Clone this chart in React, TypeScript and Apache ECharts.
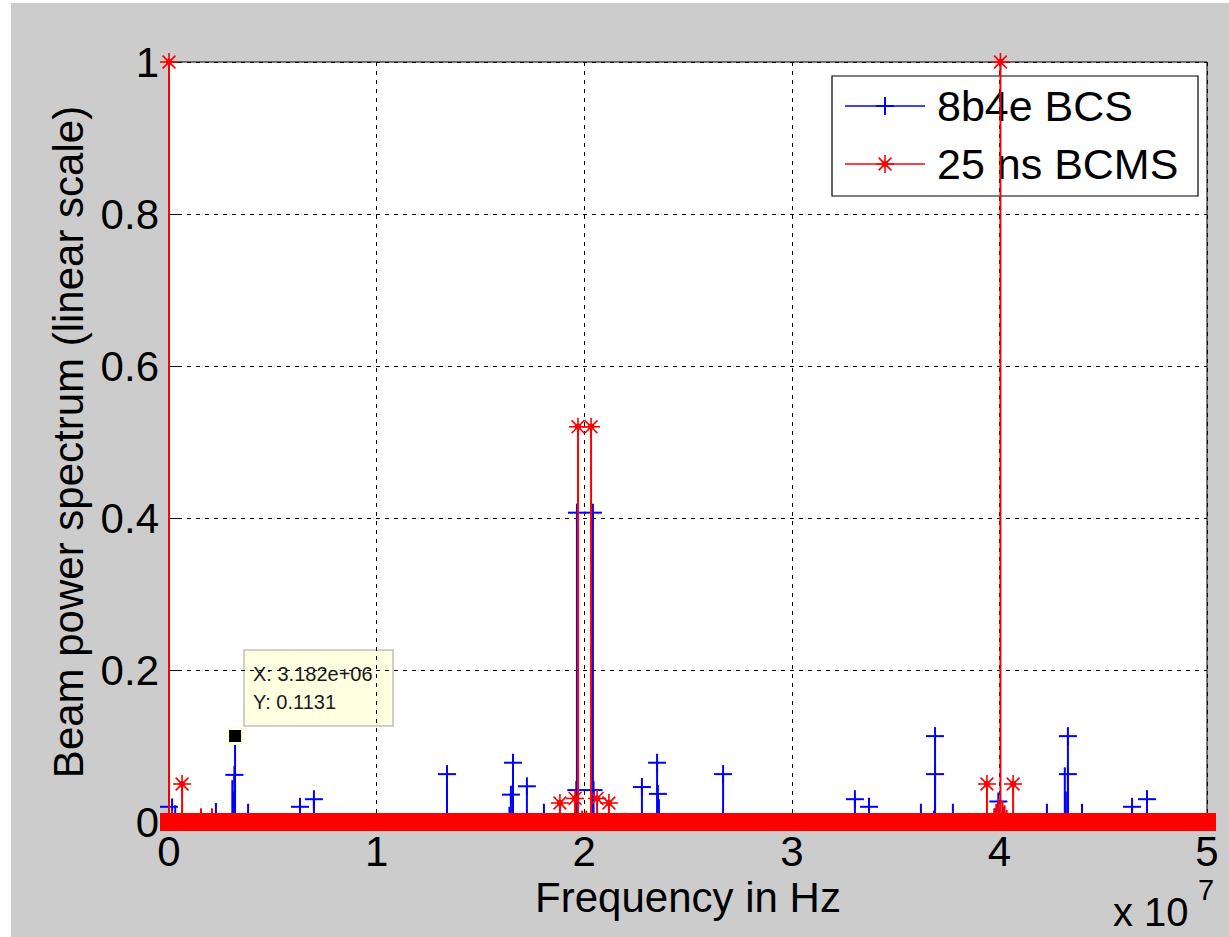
import React, { useEffect, useRef } from "react";
import * as echarts from "echarts";

// ---- data (Hz, linear power) ----
const xTicks = [0, 1, 2, 3, 4, 5]; // x 10^7
const yTicks = [0, 0.2, 0.4, 0.6, 0.8, 1];

const seriesNames = ["8b4e BCS", "25 ns BCMS"];

// blue stems drawn with a "+" marker
const blueMarked: [number, number][] = [
  [0, 0.02],
  [3.15e6, 0.062],
  [6.31e6, 0.02], [6.98e6, 0.03],
  [1.339e7, 0.063],
  [1.647e7, 0.036], [1.657e7, 0.078],
  [1.724e7, 0.047],
  [1.962e7, 0.042], [1.965e7, 0.407],
  [2.042e7, 0.407], [2.045e7, 0.042],
  [2.278e7, 0.046],
  [2.351e7, 0.078], [2.355e7, 0.037],
  [2.669e7, 0.063],
  [3.304e7, 0.03], [3.372e7, 0.02],
  [3.69e7, 0.063], [3.69e7, 0.113],
  [3.995e7, 0.027],
  [4.33e7, 0.063], [4.33e7, 0.113],
  [4.639e7, 0.02], [4.711e7, 0.03],
];
// blue stems whose marker is not visible (incl. the one under the data tip)
const blueStems: [number, number][] = [
  [3.182e6, 0.1131],
  [1.5e5, 0.031], [3.0e5, 0.022], [2.26e6, 0.025], [3.05e6, 0.055], [3.1e6, 0.04],
  [3.81e6, 0.024], [1.64e7, 0.02], [1.705e7, 0.012], [1.744e7, 0.012], [1.806e7, 0.024],
  [2.197e7, 0.012], [2.216e7, 0.008], [2.269e7, 0.01], [2.303e7, 0.01], [2.36e7, 0.03],
  [3.622e7, 0.024], [3.685e7, 0.015], [3.776e7, 0.024], [3.98e7, 0.018], [4.02e7, 0.02],
  [4.229e7, 0.024], [4.315e7, 0.072], [4.32e7, 0.04], [4.398e7, 0.024], [4.705e7, 0.012],
];
// red stems drawn with a "*" marker
const redMarked: [number, number][] = [
  [0, 1], [6.3e5, 0.05],
  [1.883e7, 0.025], [1.956e7, 0.031], [1.97e7, 0.52], [2.033e7, 0.52], [2.062e7, 0.031], [2.119e7, 0.025],
  [3.94e7, 0.05], [4.005e7, 1.0], [4.066e7, 0.05],
];
// red stems without visible marker
const redStems: [number, number][] = [
  [1.5e5, 0.015], [1.54e6, 0.018], [2.07e6, 0.018],
  [1.99e7, 0.015], [2.01e7, 0.015],
  [3.8e7, 0.012], [3.853e7, 0.012], [3.96e7, 0.012], [3.975e7, 0.018], [3.985e7, 0.024],
  [3.995e7, 0.03], [4.015e7, 0.028], [4.025e7, 0.022], [4.035e7, 0.016], [4.045e7, 0.012],
  [4.12e7, 0.01], [4.157e7, 0.012],
];
// dense near-zero floor of the red spectrum (from first to last bin)
const redFloor: [number, number][] = [[0, 0], [5e7, 0]];

const dataTip = { x: 3.182e6, y: 0.1131, label: ["X: 3.182e+06", "Y: 0.1131"] };

const BLUE = "#0000ff";
const RED = "#ff0000";
const FONT = '"Liberation Sans", Arial, sans-serif';
const OX = 11;
const OY = 3;

function plusMarker(cx: number, cy: number, color: string) {
  const s = 9;
  return [
    { type: "line", shape: { x1: cx - s, y1: cy, x2: cx + s, y2: cy }, style: { stroke: color, lineWidth: 2 } },
    { type: "line", shape: { x1: cx, y1: cy - s, x2: cx, y2: cy + s }, style: { stroke: color, lineWidth: 2 } },
  ];
}
function starMarker(cx: number, cy: number, color: string) {
  const s = 9;
  const d = 6.4;
  const st = { stroke: color, lineWidth: 1.6 };
  return [
    { type: "line", shape: { x1: cx - s, y1: cy, x2: cx + s, y2: cy }, style: st },
    { type: "line", shape: { x1: cx, y1: cy - s, x2: cx, y2: cy + s }, style: st },
    { type: "line", shape: { x1: cx - d, y1: cy - d, x2: cx + d, y2: cy + d }, style: st },
    { type: "line", shape: { x1: cx - d, y1: cy + d, x2: cx + d, y2: cy - d }, style: st },
    { type: "circle", shape: { cx, cy, r: 3.2 }, style: { fill: color } },
  ];
}

function stemRenderer(color: string, kind: "plus" | "star") {
  return (params: any, api: any) => {
    const x = api.value(0);
    const y = api.value(1);
    const m = api.value(2);
    const p0 = api.coord([x, 0]);
    const p1 = api.coord([x, y]);
    const children: any[] = [
      { type: "line", shape: { x1: p0[0], y1: p0[1], x2: p1[0], y2: p1[1] }, style: { stroke: color, lineWidth: 2 } },
    ];
    if (m) children.push(...(kind === "plus" ? plusMarker(p1[0], p1[1], color) : starMarker(p1[0], p1[1], color)));
    return { type: "group", children };
  };
}

function tipRenderer(params: any, api: any) {
  const p = api.coord([api.value(0), api.value(1)]);
  const s = 15;
  return {
    type: "rect",
    shape: { x: p[0] - s / 2, y: p[1] - s / 2, width: s, height: s },
    style: { fill: "#000000", stroke: "#ffffe1", lineWidth: 3 },
  };
}

export default function App() {
  const ref = useRef<HTMLDivElement>(null);
  useEffect(() => {
    if (!ref.current) return;
    const chart = echarts.init(ref.current, null, { renderer: "svg" });
    const blueData = [...blueStems.map((p) => [p[0], p[1], 0]), ...blueMarked.map((p) => [p[0], p[1], 1])];
    const redData = [...redStems.map((p) => [p[0], p[1], 0]), ...redMarked.map((p) => [p[0], p[1], 1])];

    const legendX = 832 - OX;
    const legendY = 76 - OY;

    chart.setOption({
      animation: false,
      backgroundColor: "#cccccc",
      textStyle: { fontFamily: FONT },
      grid: {
        left: 169 - OX,
        right: 1229 - 1207,
        top: 62 - OY,
        bottom: 937 - 822,
        show: true,
        backgroundColor: "#ffffff",
        borderColor: "#000000",
        borderWidth: 1,
      },
      xAxis: {
        type: "value",
        min: 0,
        max: 5e7,
        interval: 1e7,
        name: "Frequency in Hz",
        nameLocation: "middle",
        nameGap: 26,
        nameTextStyle: { fontSize: 42, color: "#000", fontFamily: FONT },
        axisLine: { show: true, lineStyle: { color: "#000", width: 1 } },
        axisTick: { show: true, inside: true, length: 10, lineStyle: { color: "#000" } },
        axisLabel: {
          fontSize: 42,
          color: "#000",
          margin: 8,
          fontFamily: FONT,
          formatter: (v: number) => String(xTicks[Math.round(v / 1e7)]),
        },
        splitLine: { show: true, lineStyle: { color: "#000", type: [4, 5], width: 1 } },
      },
      yAxis: {
        type: "value",
        min: 0,
        max: 1,
        interval: 0.2,
        name: "Beam power spectrum (linear scale)",
        nameLocation: "middle",
        nameGap: 72,
        nameRotate: 90,
        nameTextStyle: { fontSize: 42, color: "#000", fontFamily: FONT },
        axisLine: { show: true, lineStyle: { color: "#000", width: 1 } },
        axisTick: { show: true, inside: true, length: 10, lineStyle: { color: "#000" } },
        axisLabel: {
          fontSize: 42,
          color: "#000",
          margin: 10,
          fontFamily: FONT,
          formatter: (v: number) => {
            const t = yTicks[Math.round(v / 0.2)];
            return t === 0 || t === 1 ? String(t) : t.toFixed(1);
          },
        },
        splitLine: { show: true, lineStyle: { color: "#000", type: [4, 5], width: 1 } },
      },
      series: [
        {
          name: seriesNames[0],
          type: "custom",
          renderItem: stemRenderer(BLUE, "plus"),
          data: blueData,
          encode: { x: 0, y: 1 },
          clip: false,
          z: 3,
          silent: true,
        },
        {
          name: seriesNames[1],
          type: "custom",
          renderItem: stemRenderer(RED, "star"),
          data: redData,
          encode: { x: 0, y: 1 },
          clip: false,
          z: 4,
          silent: true,
        },
        {
          name: seriesNames[1] + " floor",
          type: "line",
          data: redFloor,
          symbol: "none",
          clip: false,
          silent: true,
          z: 5,
          lineStyle: { color: RED, width: 18, cap: "square" },
        },
        {
          name: "data tip",
          type: "custom",
          renderItem: tipRenderer,
          data: [[dataTip.x, dataTip.y]],
          encode: { x: 0, y: 1 },
          clip: false,
          silent: true,
          z: 10,
        },
      ],
      graphic: [
        // data tip box
        {
          type: "group",
          z: 20,
          children: [
            {
              type: "rect",
              shape: { x: 244 - OX, y: 650 - OY, width: 149, height: 76 },
              style: { fill: "#ffffe1", stroke: "#c0c0c0", lineWidth: 1.5 },
            },
            {
              type: "text",
              x: 253 - OX,
              y: 674 - OY,
              style: { text: dataTip.label[0], font: `20px ${FONT}`, fill: "#1a1a1a", verticalAlign: "middle" },
            },
            {
              type: "text",
              x: 253 - OX,
              y: 702 - OY,
              style: { text: dataTip.label[1], font: `20px ${FONT}`, fill: "#1a1a1a", verticalAlign: "middle" },
            },
          ],
        },
        // legend
        {
          type: "group",
          z: 20,
          children: [
            {
              type: "rect",
              shape: { x: legendX, y: legendY, width: 366, height: 120 },
              style: { fill: "#ffffff", stroke: "#000", lineWidth: 1.2 },
            },
            {
              type: "line",
              shape: { x1: 845 - OX, y1: 106 - OY, x2: 925 - OX, y2: 106 - OY },
              style: { stroke: BLUE, lineWidth: 1.6 },
            },
            ...plusMarker(885 - OX, 106 - OY, BLUE),
            {
              type: "text",
              x: 937 - OX,
              y: 106 - OY,
              style: { text: seriesNames[0], font: `43px ${FONT}`, fill: "#000", verticalAlign: "middle" },
            },
            {
              type: "line",
              shape: { x1: 845 - OX, y1: 164 - OY, x2: 925 - OX, y2: 164 - OY },
              style: { stroke: RED, lineWidth: 1.6 },
            },
            ...starMarker(885 - OX, 164 - OY, RED),
            {
              type: "text",
              x: 937 - OX,
              y: 164 - OY,
              style: { text: seriesNames[1], font: `43px ${FONT}`, fill: "#000", verticalAlign: "middle" },
            },
          ],
        },
        // exponent label
        {
          type: "text",
          x: 1113 - OX,
          y: 912 - OY,
          style: { text: "x 10", font: `40px ${FONT}`, fill: "#000", verticalAlign: "middle" },
        },
        {
          type: "text",
          x: 1198 - OX,
          y: 890 - OY,
          style: { text: "7", font: `29px ${FONT}`, fill: "#000", verticalAlign: "middle" },
        },
      ],
    });
    return () => chart.dispose();
  }, []);

  return (
    <div style={{ position: "absolute", left: 0, top: 0, width: 1229, height: 937, background: "#ffffff" }}>
      <div ref={ref} style={{ position: "absolute", left: OX, top: OY, width: 1229 - OX, height: 937 - OY }} />
    </div>
  );
}
